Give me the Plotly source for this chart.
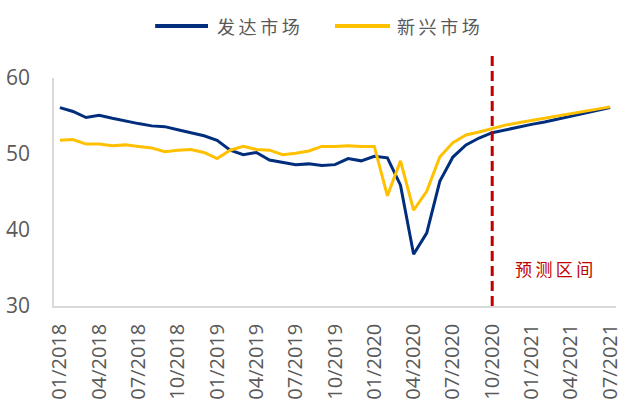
import plotly.graph_objects as go

# Monthly observation labels, 01/2018 .. 07/2021
months = [f"{m:02d}/{y}" for y in (2018, 2019, 2020, 2021) for m in range(1, 13)][:43]

# Labels shown on the category axis (quarterly)
tick_labels = ["01/2018", "04/2018", "07/2018", "10/2018", "01/2019", "04/2019",
               "07/2019", "10/2019", "01/2020", "04/2020", "07/2020", "10/2020",
               "01/2021", "04/2021", "07/2021"]

developed = [56.1, 55.6, 54.8, 55.1, 54.7, 54.3, 54.0, 53.7, 53.6, 53.2, 52.8, 52.4,
             51.8, 50.5, 49.9, 50.2, 49.2, 48.9, 48.6, 48.7, 48.5, 48.6, 49.4, 49.1,
             49.7, 49.5, 45.9, 36.8, 39.6, 46.4, 49.6, 51.2, 52.1, 52.8, 53.2, 53.5,
             53.9, 54.2, 54.6, 54.9, 55.3, 55.7, 56.1]

emerging = [51.8, 51.9, 51.3, 51.3, 51.1, 51.2, 51.0, 50.8, 50.3, 50.5, 50.6, 50.2,
            49.4, 50.5, 51.0, 50.6, 50.5, 49.9, 50.1, 50.4, 51.0, 51.0, 51.1, 51.0,
            51.0, 44.5, 49.1, 42.6, 45.1, 49.6, 51.5, 52.5, 52.9, 53.4, 53.8, 54.1,
            54.4, 54.7, 55.0, 55.3, 55.6, 55.9, 56.2]

series_names = ["发达市场", "新兴市场"]
forecast_start = "10/2020"
forecast_label = "预测区间"

NAVY = "#002E7D"
GOLD = "#FFC000"
RED = "#C00000"
GREY_TEXT = "#595959"
CJK = "Noto Sans CJK SC"


def spaced(text):
    # open up the CJK characters a little
    return "\u2009".join(text)


fig = go.Figure()
fig.add_trace(go.Scatter(x=months, y=developed, name=series_names[0], mode="lines",
                         line=dict(color=NAVY, width=3)))
fig.add_trace(go.Scatter(x=months, y=emerging, name=series_names[1], mode="lines",
                         line=dict(color=GOLD, width=3)))

# forecast boundary
fig.add_shape(type="line", xref="x", yref="paper",
              x0=forecast_start, x1=forecast_start, y0=0, y1=1.1,
              line=dict(color=RED, width=3, dash="10px,5px"))
fig.add_annotation(xref="paper", yref="y", x=0.89, y=35.0, text=spaced(forecast_label),
                   showarrow=False, xanchor="center", yanchor="middle",
                   font=dict(family=CJK, size=17, color=RED))

# legend drawn above the plot: a line sample followed by the series name
legend_items = [(series_names[0], NAVY, 0.180, 0.274, 0.287),
                (series_names[1], GOLD, 0.500, 0.598, 0.607)]
for name, color, lx0, lx1, tx in legend_items:
    fig.add_shape(type="line", xref="paper", yref="paper",
                  x0=lx0, x1=lx1, y0=1.228, y1=1.228,
                  line=dict(color=color, width=4))
    fig.add_annotation(xref="paper", yref="paper", x=tx, y=1.228, text=spaced(name),
                       showarrow=False, xanchor="left", yanchor="middle",
                       font=dict(family=CJK, size=18, color=GREY_TEXT))

fig.update_layout(
    width=619, height=403,
    margin=dict(l=54, r=3, t=78, b=97),
    paper_bgcolor="white", plot_bgcolor="white",
    showlegend=False,
)
fig.update_xaxes(type="category", categoryorder="array", categoryarray=months,
                 range=[-0.45, 42.45],
                 tickmode="array", tickvals=tick_labels, ticktext=tick_labels,
                 tickangle=-90, ticks="", showgrid=False, ticklabelstandoff=8,
                 showline=True, linecolor="#D9D9D9", linewidth=1.5,
                 tickfont=dict(family="Open Sans", size=20, color=GREY_TEXT),
                 automargin=False)
fig.update_yaxes(range=[30, 60], tickvals=[30, 40, 50, 60], showgrid=False,
                 showline=True, linecolor="#D9D9D9", linewidth=1.5,
                 ticks="", ticklabelstandoff=18,
                 tickfont=dict(family="Open Sans", size=21, color=GREY_TEXT),
                 zeroline=False, automargin=False)

fig.write_html("out.html")
